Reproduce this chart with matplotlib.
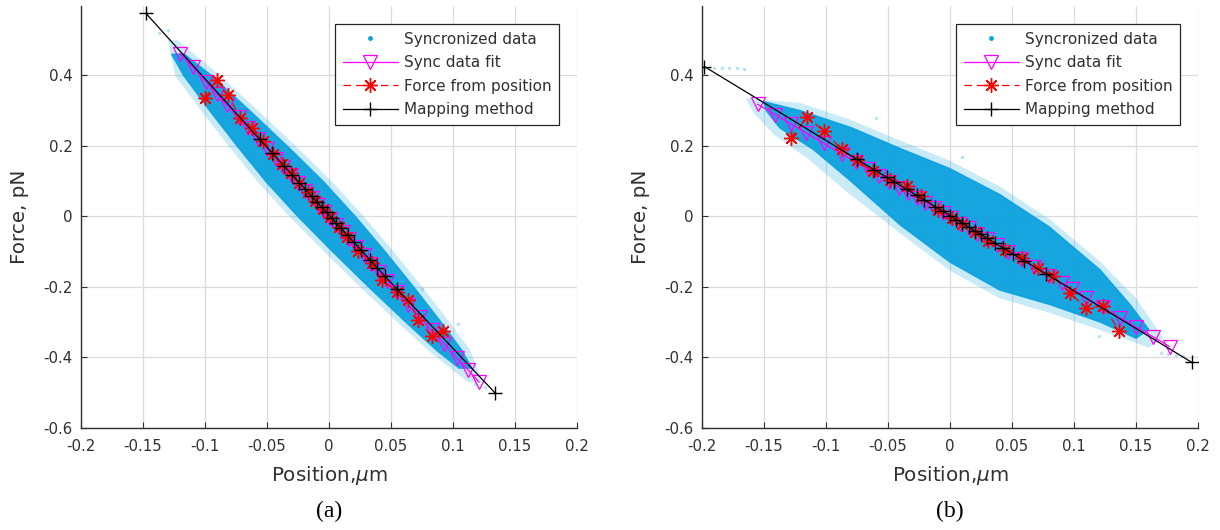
import matplotlib
matplotlib.use("Agg")
import matplotlib.pyplot as plt
from matplotlib.lines import Line2D
from matplotlib.patches import Polygon

plt.rcParams['font.family'] = ['DejaVu Sans']
plt.rcParams['mathtext.fontset'] = 'dejavusans'

# ---------------- data: panel (a) ----------------
map_a_x = [-0.1476, -0.056, -0.046, -0.036, -0.030, -0.024, -0.019, -0.014, -0.010, -0.006, -0.002,
           0.002, 0.006, 0.010, 0.015, 0.020, 0.026, 0.033, 0.039, 0.045, 0.055, 0.134]
map_a_y = [0.576, 0.219, 0.181, 0.142, 0.119, 0.096, 0.077, 0.058, 0.042, 0.027, 0.012,
           -0.004, -0.019, -0.034, -0.054, -0.073, -0.096, -0.123, -0.146, -0.169, -0.207, -0.501]

fit_a_x = [-0.120, -0.110, -0.099, -0.090, -0.082, -0.073, -0.065, -0.057, -0.050, -0.043, -0.037,
           -0.031, -0.025, -0.019, -0.014, -0.009, -0.004, 0.001, 0.006, 0.011, 0.016, 0.022, 0.028,
           0.034, 0.040, 0.047, 0.055, 0.064, 0.073, 0.083, 0.093, 0.103, 0.112, 0.121]
fit_a_y = [0.462, 0.424, 0.381, 0.346, 0.315, 0.281, 0.250, 0.219, 0.192, 0.164, 0.141,
           0.118, 0.095, 0.072, 0.052, 0.033, 0.013, -0.006, -0.025, -0.045, -0.064, -0.087, -0.110,
           -0.134, -0.157, -0.184, -0.215, -0.250, -0.285, -0.323, -0.362, -0.401, -0.435, -0.470]

ffp_a_x = [-0.100, -0.0906, -0.0815, -0.0718, -0.0624, -0.053, -0.045, -0.038, -0.031, -0.024, -0.017,
           -0.011, -0.005, 0.001, 0.008, 0.0143, 0.0234, 0.0344, 0.0425, 0.0546, 0.0637, 0.072, 0.0828, 0.092]
ffp_a_y = [0.336, 0.388, 0.345, 0.280, 0.251, 0.213, 0.176, 0.150, 0.122, 0.096, 0.068,
           0.045, 0.021, -0.002, -0.030, -0.057, -0.099, -0.132, -0.180, -0.213, -0.236, -0.293, -0.340, -0.326]

# outline of the synchronized-data cloud (dense core and faint halo)
cloud_a_core_x = [-0.1268, -0.1171, -0.0961, -0.0740, -0.0510, -0.0250, 0.0031, 0.0321, 0.0622, 0.0870, 0.1050,
                  0.1150, 0.1070, 0.0902, 0.0681, 0.0451, 0.0210, -0.0050, -0.0340, -0.0641, -0.0951, -0.1168]
cloud_a_core_y = [0.46, 0.40, 0.30, 0.20, 0.10, 0.00, -0.10, -0.20, -0.30, -0.38, -0.43,
                  -0.43, -0.38, -0.30, -0.20, -0.10, 0.00, 0.10, 0.20, 0.30, 0.40, 0.46]
cloud_a_halo_x = [-0.1300, -0.1241, -0.1031, -0.0810, -0.0580, -0.0320, -0.0039, 0.0251, 0.0552, 0.0800, 0.1120,
                  0.1240, 0.1140, 0.0972, 0.0751, 0.0521, 0.0280, 0.0020, -0.0270, -0.0571, -0.0881, -0.1220]
cloud_a_halo_y = [0.50, 0.40, 0.30, 0.20, 0.10, 0.00, -0.10, -0.20, -0.30, -0.38, -0.47,
                  -0.47, -0.38, -0.30, -0.20, -0.10, 0.00, 0.10, 0.20, 0.30, 0.40, 0.50]
stray_a_x = [-0.137, -0.130, 0.118, 0.126, 0.075, -0.068, 0.104]
stray_a_y = [0.520, 0.530, -0.475, -0.485, -0.205, 0.175, -0.305]

# ---------------- data: panel (b) ----------------
map_b_x = [-0.198, -0.075, -0.061, -0.051, -0.045, -0.035, -0.027, -0.021, -0.012, -0.006, 0.000,
           0.005, 0.010, 0.015, 0.020, 0.025, 0.030, 0.036, 0.043, 0.051, 0.060, 0.077, 0.195]
map_b_y = [0.425, 0.162, 0.132, 0.111, 0.098, 0.077, 0.060, 0.047, 0.028, 0.015, 0.002,
           -0.009, -0.019, -0.030, -0.041, -0.051, -0.062, -0.075, -0.090, -0.107, -0.126, -0.162, -0.414]

fit_b_x = [-0.155, -0.141, -0.128, -0.116, -0.102, -0.087, -0.076, -0.066, -0.057, -0.049, -0.041,
           -0.034, -0.027, -0.020, -0.013, -0.006, 0.001, 0.008, 0.015, 0.022, 0.030, 0.038, 0.047,
           0.057, 0.068, 0.080, 0.090, 0.098, 0.110, 0.123, 0.137, 0.150, 0.164, 0.177]
fit_b_y = [0.318, 0.289, 0.262, 0.237, 0.208, 0.177, 0.154, 0.134, 0.115, 0.098, 0.082,
           0.067, 0.053, 0.038, 0.024, 0.009, -0.005, -0.020, -0.034, -0.049, -0.065, -0.082, -0.100,
           -0.121, -0.144, -0.169, -0.189, -0.206, -0.231, -0.258, -0.287, -0.314, -0.342, -0.369]

ffp_b_x = [-0.1285, -0.115, -0.1016, -0.0873, -0.0753, -0.0624, -0.048, -0.035, -0.023, -0.0094, 0.002,
           0.010, 0.020, 0.031, 0.0444, 0.058, 0.0712, 0.0833, 0.0968, 0.110, 0.1237, 0.1366]
ffp_b_y = [0.222, 0.282, 0.241, 0.191, 0.159, 0.128, 0.104, 0.085, 0.059, 0.019, -0.004,
           -0.022, -0.045, -0.071, -0.0945, -0.118, -0.146, -0.170, -0.217, -0.260, -0.253, -0.326]

cloud_b_core_x = [-0.150, -0.121, -0.080, -0.040, 0.000, 0.040, 0.080, 0.121, 0.145, 0.160,
                  0.150, 0.121, 0.081, 0.040, 0.000, -0.040, -0.081, -0.110, -0.137, -0.148]
cloud_b_core_y = [0.325, 0.300, 0.252, 0.192, 0.135, 0.062, -0.030, -0.152, -0.250, -0.320,
                  -0.345, -0.299, -0.250, -0.208, -0.129, -0.024, 0.104, 0.190, 0.251, 0.300]
cloud_b_halo_x = [-0.165, -0.121, -0.080, -0.040, 0.000, 0.040, 0.080, 0.121, 0.150, 0.172,
                  0.160, 0.121, 0.081, 0.040, 0.000, -0.040, -0.085, -0.115, -0.142, -0.158]
cloud_b_halo_y = [0.335, 0.322, 0.274, 0.215, 0.158, 0.085, -0.007, -0.128, -0.232, -0.345,
                  -0.372, -0.322, -0.274, -0.232, -0.154, -0.048, 0.075, 0.165, 0.232, 0.292]
stray_b_x = [-0.190, -0.184, -0.178, -0.172, -0.166, 0.170, 0.176, 0.182, 0.188, 0.120, -0.060, 0.010]
stray_b_y = [0.420, 0.420, 0.421, 0.420, 0.419, -0.388, -0.390, -0.392, -0.395, -0.340, 0.280, 0.170]

x_ticks = [-0.2, -0.15, -0.1, -0.05, 0, 0.05, 0.1, 0.15, 0.2]
x_labels = ['-0.2', '-0.15', '-0.1', '-0.05', '0', '0.05', '0.1', '0.15', '0.2']
y_ticks = [-0.6, -0.4, -0.2, 0, 0.2, 0.4]
y_labels = ['-0.6', '-0.4', '-0.2', '0', '0.2', '0.4']
legend_labels = ['Syncronized data', 'Sync data fit', 'Force from position', 'Mapping method']
panel_labels = ['(a)', '(b)']

# ---------------- styling ----------------
CLOUD = '#0DA2DF'
AX_COL = '#303030'
GRID_COL = '#DCDCDC'

fig = plt.figure(figsize=(12.2, 5.3), dpi=100)
ax_a = fig.add_axes([0.0664, 0.1925, 0.4066, 0.7962])
ax_b = fig.add_axes([0.5754, 0.1925, 0.4066, 0.7962])


def draw(ax, halo_x, halo_y, core_x, core_y, sx, sy, fx, fy, px, py, mx, my, label):
    ax.add_patch(Polygon(list(zip(halo_x, halo_y)), closed=True, facecolor=CLOUD,
                         edgecolor='none', alpha=0.22, zorder=1))
    ax.add_patch(Polygon(list(zip(core_x, core_y)), closed=True, facecolor=CLOUD,
                         edgecolor=CLOUD, linewidth=1.2, alpha=0.95, zorder=1.1))
    ax.scatter(sx, sy, s=6, color=CLOUD, alpha=0.3, linewidths=0, zorder=1)
    ax.plot(fx, fy, color='#FF00FF', lw=0.9, marker='v', ms=10, mfc='none',
            mec='#FF00FF', mew=0.9, zorder=3)
    ax.plot(px, py, color='#FF0000', lw=0.9, ls=(0, (6, 4)), marker=(8, 2, 0), ms=10.5,
            mec='#FF0000', mew=1.0, zorder=4)
    ax.plot(mx, my, color='black', lw=0.9, marker='+', ms=10.5, mew=1.0, zorder=5)

    ax.set_xlim(-0.2, 0.2)
    ax.set_ylim(-0.6, 0.597)
    ax.set_xticks(x_ticks)
    ax.set_xticklabels(x_labels)
    ax.set_yticks(y_ticks)
    ax.set_yticklabels(y_labels)
    ax.grid(True, color=GRID_COL, lw=0.9)
    ax.set_axisbelow(True)
    for s in ['top', 'right']:
        ax.spines[s].set_visible(False)
    for s in ['left', 'bottom']:
        ax.spines[s].set_color(AX_COL)
        ax.spines[s].set_linewidth(1.0)
    ax.tick_params(direction='in', length=4, width=0.8, color=AX_COL, labelcolor=AX_COL,
                   labelsize=10.8)
    ax.tick_params(axis='x', pad=8)
    ax.tick_params(axis='y', pad=6)
    ax.set_xlabel(r'Position,$\mu$m', fontsize=14.3, color=AX_COL, labelpad=7)
    ax.set_ylabel('Force, pN', fontsize=14.3, color=AX_COL, labelpad=10)

    handles = [
        Line2D([], [], ls='none', marker='.', ms=5, color=CLOUD),
        Line2D([], [], color='#FF00FF', lw=0.9, marker='v', ms=10, mfc='none', mew=0.9),
        Line2D([], [], color='#FF0000', lw=0.9, ls=(0, (6, 4)), marker=(8, 2, 0), ms=10.5, mew=1.0),
        Line2D([], [], color='black', lw=0.9, marker='+', ms=10.5, mew=1.0),
    ]
    leg = ax.legend(handles, legend_labels, loc='upper right', bbox_to_anchor=(0.964, 0.957),
                    borderaxespad=0, fontsize=11, handlelength=3.6, labelspacing=0.55,
                    fancybox=False, framealpha=1, edgecolor='#262626', borderpad=0.5,
                    handletextpad=0.4)
    leg.get_frame().set_linewidth(0.9)
    for t in leg.get_texts():
        t.set_color(AX_COL)
    ax.text(0.5, -0.172, label, transform=ax.transAxes, ha='center', va='top',
            fontsize=17, family='Liberation Serif', color='black')


draw(ax_a, cloud_a_halo_x, cloud_a_halo_y, cloud_a_core_x, cloud_a_core_y, stray_a_x, stray_a_y,
     fit_a_x, fit_a_y, ffp_a_x, ffp_a_y, map_a_x, map_a_y, panel_labels[0])
draw(ax_b, cloud_b_halo_x, cloud_b_halo_y, cloud_b_core_x, cloud_b_core_y, stray_b_x, stray_b_y,
     fit_b_x, fit_b_y, ffp_b_x, ffp_b_y, map_b_x, map_b_y, panel_labels[1])

fig.savefig('out.png', dpi=100)
